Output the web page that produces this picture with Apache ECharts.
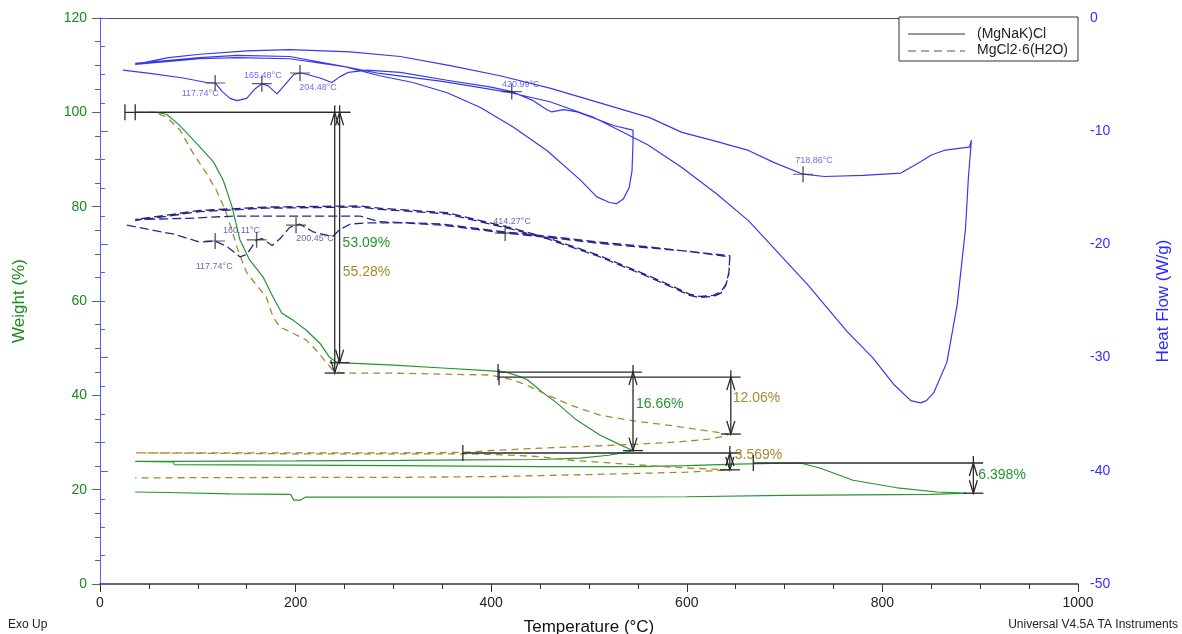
<!DOCTYPE html>
<html>
<head>
<meta charset="utf-8">
<script src="https://cdn.jsdelivr.net/npm/echarts@6/dist/echarts.min.js"></script>
<style>
  html, body { margin: 0; padding: 0; background: #fff; }
  #chart { width: 1182px; height: 634px; }
</style>
</head>
<body>
<div id="chart"></div>
<script>
// Sample names
const sampleNames = ['(MgNaK)Cl', 'MgCl2·6(H2O)'];

// Weight (%) vs temperature (°C): heat, cool, reheat, cool
const saltWeight = [
  [36,100],[58,100],[68,99.6],[80,97.5],[89,95.6],[105,92],[116,89.5],[126,85.6],[135,80],[143,73],
  [153,68.7],[167,65],[177,60.8],[186,57.4],[197,56],[211,53.8],[225,51],[235,48],[242,47],[250,46.9],
  [300,46.4],[350,45.8],[400,45.2],[415,44.9],[425,44.3],[437,43.3],[452,40.7],[467,38.4],[487,34.8],
  [511,31.6],[532,29.5],[545,28.3],
  [540,28.0],[520,27.3],[491,26.7],[450,26.4],[380,26.3],[307,26.2],[200,26.1],[75,26.0],[36,26.0],
  [36,25.9],[75,25.9],[76,25.3],[200,25.2],[300,25.1],[450,24.9],[550,24.9],[600,25.1],[650,25.4],
  [700,25.6],[716,25.65],[736,24.6],[770,22.0],[815,20.4],[856,19.5],[886,19.25],
  [850,19.0],[700,18.8],[600,18.5],[400,18.4],[210,18.4],[205,17.8],[198,17.8],[195,19.0],[133,19.1],
  [70,19.4],[36,19.5]
];
const hydrateWeight = [
  [36,100],[55,100],[68,99],[82,96.2],[95,91.4],[109,87],[119,83.5],[128,79.3],[135,75],[141,70.8],
  [150,66],[160,63.4],[170,60.8],[177,56.6],[184,54.5],[197,53.2],[211,51.7],[221,49.6],[232,46.8],
  [238,45.4],[245,44.8],[260,44.72],[300,44.7],[400,44.3],[409,43.85],[420,43.4],[435,42.3],[453,40.5],
  [480,38.0],[511,35.8],[545,34.6],[580,33.7],[610,32.8],[643,31.79],
  [640,31.4],[622,30.7],[590,30.1],[545,29.6],[500,29.2],[450,28.8],[400,28.3],[371,27.9],[300,27.8],
  [200,27.8],[36,27.8],
  [36,27.6],[200,27.6],[371,27.6],[400,27.5],[450,27.0],[477,26.3],[520,25.7],[560,25.1],[600,24.6],
  [644,24.2],
  [600,23.7],[500,23.2],[409,22.8],[300,22.6],[200,22.6],[36,22.5]
];

// Heat flow (W/g) vs temperature (°C)
const saltHeatFlow = [
  [23.5,-4.6],[51,-4.9],[85,-5.3],[109,-5.7],[117.74,-5.74],[125,-6.5],[133,-7.1],[140,-7.3],[150,-7.1],
  [158,-6.3],[165.48,-5.8],[172,-6.0],[181,-6.7],[191,-5.7],[198,-5.0],[204.48,-4.86],[210,-4.95],
  [225,-5.3],[237,-5.7],[245,-5.2],[254,-4.8],[273,-4.6],[307,-4.8],[355,-5.5],[400,-6.1],[420.99,-6.5],
  [443,-7.3],[457,-8.1],[462,-8.3],[474,-8.1],[488,-8.3],[504,-8.8],[525,-9.5],[545,-9.9],
  [545,-11.0],[544,-13.5],[541,-15.0],[535,-16.0],[528,-16.4],[521,-16.3],[508,-15.8],[491,-14.3],
  [457,-11.7],[422,-9.6],[389,-7.9],[355,-6.6],[320,-5.7],[286,-5.1],[250,-4.3],[194,-3.6],[140,-3.5],
  [102,-3.6],[36,-4.1],
  [36,-4.0],[70,-3.5],[102,-3.2],[150,-2.9],[194,-2.8],[256,-3.0],[307,-3.4],[358,-4.2],[409,-5.1],
  [460,-6.2],[511,-7.5],[562,-8.8],[595,-10.1],[630,-10.9],[663,-11.7],[690,-12.8],[718.86,-13.8],
  [741,-14.0],[780,-13.9],[819,-13.7],[839,-12.7],[850,-12.1],[863,-11.7],[880,-11.5],[889,-11.4],
  [891,-10.8],[890,-11.9],
  [888,-14.0],[885,-18.6],[876.5,-25.3],[866,-30.4],[852.5,-33.1],[845,-33.8],[839,-34.0],[829,-33.8],
  [812,-32.4],[790,-30.0],[764,-27.7],[724,-23.6],[663,-17.9],[630,-15.5],[595,-13.2],[560,-11.2],
  [504,-8.75],[460,-7.4],[420,-6.6],[350,-5.6],[286,-4.9],[250,-4.3],[194,-3.4],[140,-3.3],[102,-3.5],
  [36,-4.0]
];
const hydrateHeatFlow = [
  [27.6,-18.3],[51,-18.7],[76,-19.1],[102,-19.8],[117.74,-19.7],[130,-20.2],[143,-21.1],[150,-20.9],
  [160.11,-19.6],[166,-19.5],[176,-20.1],[184,-19.5],[194,-18.5],[200.45,-18.3],[204,-18.2],[218,-18.9],
  [238,-19.3],[245,-18.7],[256,-18.2],[273,-18.1],[307,-18.1],[350,-18.3],[414.27,-19.0],[460,-19.4],
  [510,-19.9],[560,-20.3],[600,-20.6],[644,-21.1],
  [643,-22.5],[640,-23.5],[635,-24.2],[627,-24.5],[613,-24.6],[603,-24.4],[593,-24.0],[559,-22.7],
  [508,-20.9],[457,-19.4],[423,-18.6],[355,-17.2],[286,-16.8],[266,-16.6],[170,-16.7],[102,-17.0],
  [36,-17.8],
  [36,-17.9],[90,-17.7],[136,-17.5],[266,-17.5],[286,-18.0],[350,-18.2],[414.27,-18.9],[460,-19.3],
  [510,-19.8],[560,-20.2],[600,-20.6],[644,-21.0],
  [643,-22.6],[640,-23.6],[635,-24.3],[627,-24.6],[613,-24.7],[603,-24.5],[593,-24.1],[559,-22.8],
  [508,-21.0],[457,-19.5],[423,-18.7],[355,-17.3],[286,-16.9],[266,-16.7],[170,-16.8],[102,-17.1],
  [36,-17.9]
];

// Peak temperatures (°C) with heat flow at the peak
const saltPeaks = [[117.74,-5.74],[165.48,-5.8],[204.48,-4.86],[420.99,-6.5],[718.86,-13.8]];
const hydratePeaks = [[117.74,-19.7],[160.11,-19.6],[200.45,-18.3],[414.27,-19.0]];

// Weight-loss steps
const stepLoss   = [53.09, 55.28, 16.66, 12.06, 3.569, 6.398];
const stepOnset  = [100, 100, 44.94, 43.85, 27.77, 25.65];
const stepFromT  = [25.5, 36, 407, 408, 371, 668];
const stepToT    = [256, 256, 554, 655, 655, 903];
const stepArrowT = [245, 240, 545, 645, 644, 893];
const stepSample = [0, 1, 0, 1, 1, 0];

// Axis ticks
const tempTicks = { min: 0, max: 1000, interval: 200 };
const weightTicks = { min: 0, max: 120, interval: 20 };
const heatTicks = { min: -50, max: 0, interval: 10 };

const FONT = '"Liberation Sans", Arial, Helvetica, sans-serif';
const GREEN = '#23962f';
const OLIVE = '#a38b2e';
const BLUE = '#3838ee';
const NAVY = '#26268f';
const INK = '#2b2b2b';
const sampleInk = [GREEN, OLIVE];

// label placement for step annotations (px)
const stepLabelDx = [3, 8, 3, 2, 5, 5];
const stepLabelDy = [6, 29, -7, -7, -6, -3];
// label placement for peak annotations (px, from marker centre)
const saltPeakOffset = [[-15, 11], [1, -8], [18, 15], [9, -7], [11, -14]];
const hydratePeakOffset = [[-1, 26], [-15, -9], [19, 13], [7, -12]];

const crossSymbol = 'path://M0,9.3H20V10.7H0Z M9.3,0H10.7V20H9.3Z';

function peakSeries(points, offsets, color) {
  return {
    type: 'scatter',
    yAxisIndex: 1,
    symbol: crossSymbol,
    symbolSize: [20, 16],
    itemStyle: { color: '#333' },
    z: 5,
    data: points.map((p, i) => ({
      value: p,
      label: { offset: offsets[i] }
    })),
    label: {
      show: true,
      position: 'inside',
      color: color,
      fontSize: 9,
      fontFamily: FONT,
      formatter: (prm) => prm.value[0].toFixed(2) + '°C'
    }
  };
}

function renderStep(params, api) {
  const i = params.dataIndex;
  const a = api.coord([stepFromT[i], stepOnset[i]]);
  const b = api.coord([stepToT[i], stepOnset[i]]);
  const t = api.coord([stepArrowT[i], stepOnset[i]]);
  const e = api.coord([stepArrowT[i], stepOnset[i] - stepLoss[i]]);
  const ink = { stroke: INK, lineWidth: 1.3, fill: null };
  const x = t[0];
  return {
    type: 'group',
    children: [
      { type: 'line', shape: { x1: a[0], y1: a[1], x2: b[0], y2: b[1] }, style: ink },
      { type: 'line', shape: { x1: a[0], y1: a[1] - 8, x2: a[0], y2: a[1] + 8 }, style: ink },
      { type: 'line', shape: { x1: x, y1: t[1] - 7, x2: x, y2: e[1] }, style: ink },
      { type: 'polyline', shape: { points: [[x - 4, t[1] + 13], [x, t[1]], [x + 4, t[1] + 13]] }, style: ink },
      { type: 'polyline', shape: { points: [[x - 4, e[1] - 13], [x, e[1]], [x + 4, e[1] - 13]] }, style: ink },
      { type: 'line', shape: { x1: x - 10, y1: e[1], x2: x + 10, y2: e[1] }, style: ink },
      {
        type: 'text',
        style: {
          x: x + stepLabelDx[i],
          y: (t[1] + e[1]) / 2 + stepLabelDy[i],
          text: stepLoss[i] + '%',
          fill: sampleInk[stepSample[i]],
          font: '14px ' + FONT,
          align: 'left',
          verticalAlign: 'middle'
        }
      }
    ]
  };
}

const chart = echarts.init(document.getElementById('chart'), null, { renderer: 'canvas' });

chart.setOption({
  animation: false,
  backgroundColor: '#fff',
  grid: { left: 100, right: 104, top: 18, bottom: 50, outerBoundsMode: 'none', containLabel: false },
  xAxis: [
    {
      type: 'value',
      position: 'bottom',
      min: tempTicks.min, max: tempTicks.max, interval: tempTicks.interval,
      name: 'Temperature (°C)',
      nameLocation: 'middle',
      nameGap: 35,
      nameTextStyle: { fontSize: 17, color: '#111', fontFamily: FONT },
      axisLine: { lineStyle: { color: '#333', width: 1.5 } },
      axisTick: { length: 8, lineStyle: { color: '#333' } },
      minorTick: { show: true, splitNumber: 4, length: 5, lineStyle: { color: '#333' } },
      axisLabel: { fontSize: 14, color: '#222', fontFamily: FONT, margin: 12, formatter: (v) => String(v) },
      splitLine: { show: false }
    },
    {
      type: 'value',
      position: 'top',
      min: tempTicks.min, max: tempTicks.max,
      axisLine: { show: true, lineStyle: { color: '#555', width: 1 } },
      axisTick: { show: false },
      axisLabel: { show: false },
      splitLine: { show: false }
    }
  ],
  yAxis: [
    {
      type: 'value',
      position: 'left',
      min: weightTicks.min, max: weightTicks.max, interval: weightTicks.interval,
      name: 'Weight (%)',
      nameLocation: 'middle',
      nameRotate: 90,
      nameGap: 72,
      nameTextStyle: { fontSize: 17, color: '#1a8a1a', fontFamily: FONT },
      axisLine: { show: true, lineStyle: { color: '#2b8c2b', width: 1 } },
      axisTick: { length: 8, lineStyle: { color: '#2b8c2b' } },
      minorTick: { show: true, splitNumber: 4, length: 5, lineStyle: { color: '#2b8c2b' } },
      axisLabel: { fontSize: 14, color: '#1a8a1a', fontFamily: FONT, margin: 13 },
      splitLine: { show: false }
    },
    {
      type: 'value',
      position: 'right',
      min: heatTicks.min, max: heatTicks.max, interval: heatTicks.interval,
      name: 'Heat Flow (W/g)',
      nameLocation: 'middle',
      nameRotate: 90,
      nameGap: 77,
      nameTextStyle: { fontSize: 17, color: '#2a2aff', fontFamily: FONT },
      axisLine: { show: true, lineStyle: { color: '#5a5aff', width: 1 } },
      axisTick: { length: 8, lineStyle: { color: '#5a5aff' } },
      minorTick: { show: true, splitNumber: 4, length: 5, lineStyle: { color: '#5a5aff' } },
      axisLabel: { fontSize: 14, color: '#3030ff', fontFamily: FONT, margin: 12 },
      splitLine: { show: false }
    }
  ],
  series: [
    {
      name: sampleNames[0] + ' weight',
      type: 'line', yAxisIndex: 0, symbol: 'none', z: 3,
      lineStyle: { color: GREEN, width: 1.2 },
      data: saltWeight
    },
    {
      name: sampleNames[1] + ' weight',
      type: 'line', yAxisIndex: 0, symbol: 'none', z: 3,
      lineStyle: { color: OLIVE, width: 1.3, type: [7, 5] },
      data: hydrateWeight
    },
    {
      name: sampleNames[0] + ' heat flow',
      type: 'line', yAxisIndex: 1, symbol: 'none', z: 3,
      lineStyle: { color: BLUE, width: 1.2 },
      data: saltHeatFlow
    },
    {
      name: sampleNames[1] + ' heat flow',
      type: 'line', yAxisIndex: 1, symbol: 'none', z: 3,
      lineStyle: { color: NAVY, width: 1.3, type: [9, 4] },
      data: hydrateHeatFlow
    },
    peakSeries(saltPeaks, saltPeakOffset, '#4646f0'),
    peakSeries(hydratePeaks, hydratePeakOffset, '#4a3f9e'),
    {
      type: 'custom',
      yAxisIndex: 0,
      clip: false,
      z: 6,
      renderItem: renderStep,
      data: stepLoss.map((v, i) => [stepArrowT[i], stepOnset[i] - v / 2])
    }
  ],
  graphic: [
    { type: 'rect', shape: { x: 899, y: 17, width: 179, height: 44 },
      style: { fill: '#fff', stroke: '#333', lineWidth: 1 }, z: 10 },
    { type: 'line', shape: { x1: 908, y1: 34, x2: 965, y2: 34 },
      style: { stroke: '#333', lineWidth: 1.2 }, z: 11 },
    { type: 'line', shape: { x1: 908, y1: 51, x2: 965, y2: 51 },
      style: { stroke: '#555', lineWidth: 1.2, lineDash: [8, 5] }, z: 11 },
    { type: 'text', x: 977, y: 34, z: 11,
      style: { text: sampleNames[0], fill: '#222', font: '14px ' + FONT, verticalAlign: 'middle' } },
    { type: 'text', x: 977, y: 50, z: 11,
      style: { text: sampleNames[1], fill: '#222', font: '14px ' + FONT, verticalAlign: 'middle' } },
    { type: 'text', x: 8, y: 625, z: 11,
      style: { text: 'Exo Up', fill: '#222', font: '12px ' + FONT, verticalAlign: 'middle' } },
    { type: 'text', x: 1178, y: 625, z: 11,
      style: { text: 'Universal V4.5A TA Instruments', fill: '#222', font: '12px ' + FONT,
               align: 'right', verticalAlign: 'middle' } }
  ]
});
</script>
</body>
</html>
